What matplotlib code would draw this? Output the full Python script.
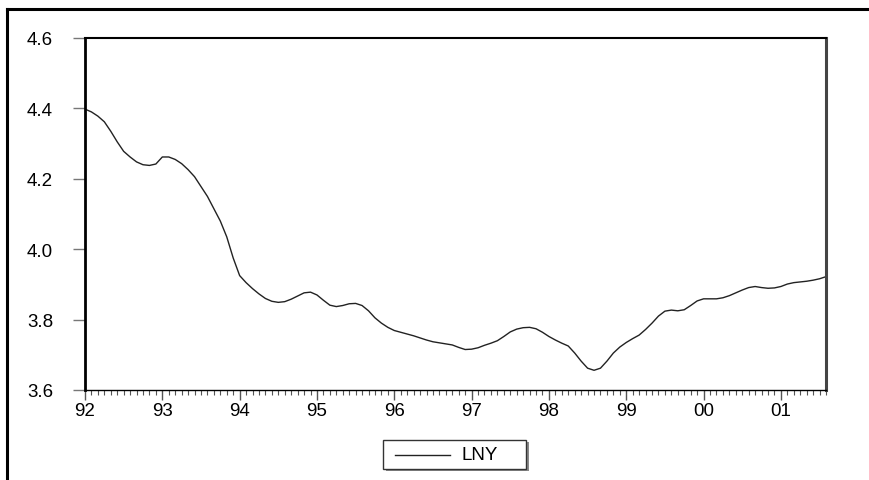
"""LNY monthly series, 1992M01-2001M08, drawn in the EViews line-graph style."""

import matplotlib
matplotlib.use("Agg")
import matplotlib.pyplot as plt
from matplotlib.lines import Line2D
from matplotlib.patches import Rectangle
import numpy as np

plt.rcParams["font.family"] = ["Liberation Sans", "DejaVu Sans"]

# monthly observations, Jan 1992 .. Aug 2001
lny = [
    4.398, 4.390, 4.378, 4.362, 4.335, 4.305, 4.278, 4.262, 4.248, 4.240, 4.238, 4.242,
    4.262, 4.262, 4.255, 4.243, 4.226, 4.206, 4.178, 4.150, 4.115, 4.080, 4.035, 3.975,
    3.925, 3.905, 3.888, 3.873, 3.860, 3.852, 3.849, 3.851, 3.858, 3.867, 3.876, 3.878,
    3.870, 3.855, 3.841, 3.837, 3.840, 3.845, 3.846, 3.840, 3.825, 3.805, 3.790, 3.778,
    3.769, 3.764, 3.759, 3.754, 3.748, 3.742, 3.737, 3.734, 3.731, 3.728, 3.721, 3.715,
    3.716, 3.720, 3.727, 3.733, 3.740, 3.752, 3.765, 3.773, 3.777, 3.778, 3.774, 3.764,
    3.752, 3.742, 3.733, 3.725, 3.705, 3.682, 3.662, 3.656, 3.662, 3.682, 3.705, 3.722,
    3.735, 3.746, 3.756, 3.772, 3.790, 3.810, 3.824, 3.827, 3.825, 3.828, 3.840, 3.853,
    3.859, 3.859, 3.859, 3.862, 3.868, 3.876, 3.884, 3.891, 3.894, 3.891, 3.889, 3.890,
    3.894, 3.901, 3.905, 3.907, 3.909, 3.912, 3.916, 3.922,
]
year_labels = ["92", "93", "94", "95", "96", "97", "98", "99", "00", "01"]
y_ticks = [3.6, 3.8, 4.0, 4.2, 4.4, 4.6]
series_name = "LNY"

FS = 13.5
months = np.arange(len(lny))

fig = plt.figure(figsize=(8.70, 4.81), dpi=100)
ax = fig.add_axes([85 / 870, 1 - 391 / 481, (826 - 85) / 870, (391 - 39) / 481])

ax.plot(months, lny, color="#222222", linewidth=1.0)

ax.set_xlim(0, len(lny) - 1)
ax.set_ylim(y_ticks[0], y_ticks[-1])

ax.set_xticks(np.arange(0, len(lny), 12))
ax.set_xticklabels(year_labels)
ax.set_xticks(months, minor=True)
ax.set_yticks(y_ticks)
ax.set_yticklabels([f"{v:.1f}" for v in y_ticks])

ax.tick_params(axis="x", which="major", direction="out", length=7, width=1.0,
               color="#555555", labelsize=FS, pad=2)
ax.tick_params(axis="x", which="minor", direction="out", length=3.5, width=0.8,
               color="#555555")
ax.tick_params(axis="y", direction="out", length=9, width=1.0, color="#777777",
               labelsize=FS, pad=14)

ax.spines["left"].set_linewidth(2.0)
ax.spines["left"].set_color("black")
ax.spines["top"].set_linewidth(1.5)
ax.spines["top"].set_color("black")
ax.spines["right"].set_linewidth(2.2)
ax.spines["right"].set_color("#444444")
ax.spines["bottom"].set_linewidth(1.0)
ax.spines["bottom"].set_color("black")

# outer frame (top and left edges of the graph window)
fig.add_artist(Line2D([7 / 870, 1.0], [1 - 10 / 481, 1 - 10 / 481],
                      transform=fig.transFigure, color="black", linewidth=2.2))
fig.add_artist(Line2D([7 / 870, 7 / 870], [0.0, 1 - 10 / 481],
                      transform=fig.transFigure, color="black", linewidth=2.2))

# legend box under the plot
fig.add_artist(Rectangle((384 / 870 + 0.002, 1 - 471 / 481 - 0.003), 143 / 870, 29 / 481,
                         transform=fig.transFigure, facecolor="#888888",
                         edgecolor="none"))
fig.add_artist(Rectangle((383 / 870, 1 - 470 / 481), 143 / 870, 29 / 481,
                         transform=fig.transFigure, facecolor="white",
                         edgecolor="#333333", linewidth=1.0))
fig.add_artist(Line2D([395 / 870, 450 / 870], [1 - 456 / 481, 1 - 456 / 481],
                      transform=fig.transFigure, color="#222222", linewidth=1.0))
fig.text(462 / 870, 1 - 456 / 481, series_name, fontsize=FS, va="center", ha="left")

fig.savefig("out.png", dpi=100)
